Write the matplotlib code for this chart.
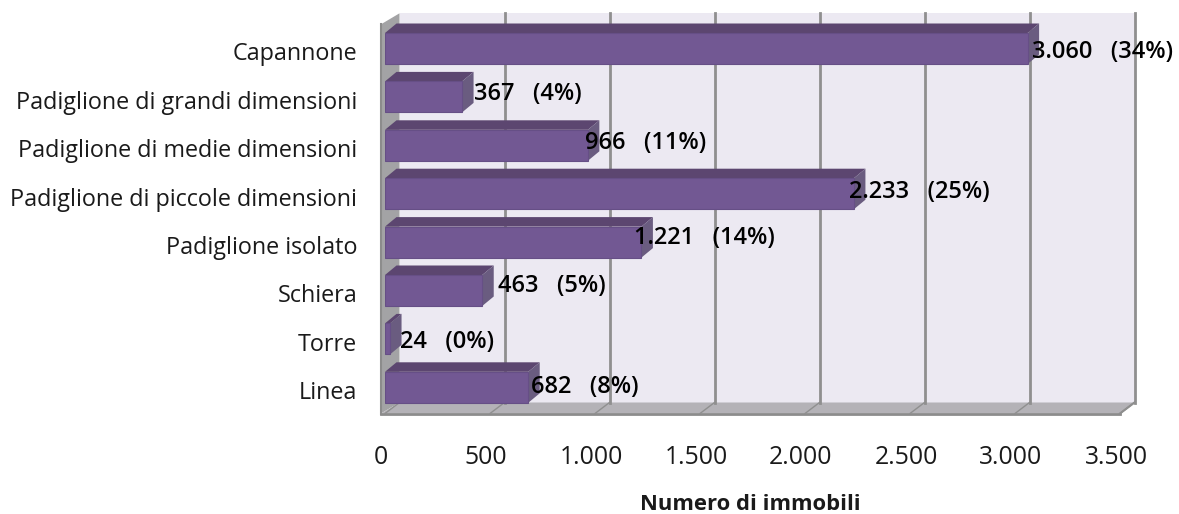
import matplotlib
matplotlib.use('Agg')
import matplotlib.pyplot as plt
from matplotlib.patches import Polygon
from matplotlib.transforms import ScaledTranslation

categories = ['Capannone', 'Padiglione di grandi dimensioni', 'Padiglione di medie dimensioni',
              'Padiglione di piccole dimensioni', 'Padiglione isolato', 'Schiera', 'Torre', 'Linea']
values = [3060, 367, 966, 2233, 1221, 463, 24, 682]
value_labels = ['3.060', '367', '966', '2.233', '1.221', '463', '24', '682']
percents = ['34%', '4%', '11%', '25%', '14%', '5%', '0%', '8%']
x_ticks = [0, 500, 1000, 1500, 2000, 2500, 3000, 3500]
x_tick_labels = ['0', '500', '1.000', '1.500', '2.000', '2.500', '3.000', '3.500']

# label nudges in pixels, the original labels sit unevenly on the bar ends
label_shift = [4, 12, -3, -5, -7, 16, 10, 3]
label_rise = [-3, 3, 2, 2, 4, 4, -3, 0]

W, H = 1179, 514
left, right, top, bottom = 385, 1120, 24.3, 413.5
x_scale = (right - left) / 3500
y_scale = 48.4


def px_x(p):
    return p / x_scale


def px_y(p):
    return p / y_scale


def poly(ax, pts, color, z, edge='none'):
    ax.add_patch(Polygon(pts, closed=True, facecolor=color, edgecolor=edge, lw=1, zorder=z, clip_on=False))


def main():
    plt.rcParams['font.family'] = ['Open Sans', 'DejaVu Sans']
    fig = plt.figure(figsize=(W / 100, H / 100), dpi=100)
    ax = fig.add_axes([left / W, 1 - bottom / H, (right - left) / W, (bottom - top) / H])
    ax.set_xlim(0, 3500)
    ax.set_ylim((bottom - 48.5) / y_scale, -0.5)
    for s in ax.spines.values():
        s.set_visible(False)
    ax.patch.set_visible(False)

    y0, y1 = ax.get_ylim()
    dx = px_x(14.5)
    dy = px_y(11)
    lx = -px_x(4)

    # walls of the 3d box
    poly(ax, [(dx, y1 - dy), (3500 + dx, y1 - dy), (3500 + dx, y0 - dy), (dx, y0 - dy)], '#ece9f2', 1)
    poly(ax, [(lx, y1), (dx, y1 - dy), (dx, y0 - dy), (lx, y0)], '#a3a3a5', 2)
    poly(ax, [(lx, y0), (dx, y0 - dy), (3500 + dx, y0 - dy), (3500, y0)], '#b4b2b7', 2)
    ax.plot([lx, 3500], [y0, y0], color='#8c8c8c', lw=2, zorder=3, clip_on=False)
    ax.plot([lx, lx], [y1, y0], color='#8c8c8c', lw=1.5, zorder=3, clip_on=False)
    ax.plot([3500 + dx, 3500], [y0 - dy, y0], color='#8c8c8c', lw=1.5, zorder=3, clip_on=False)

    for t in x_ticks:
        if t > 0:
            ax.plot([t + dx, t + dx], [y1 - dy, y0 - dy], color='#8f8f8f', lw=2, zorder=3, clip_on=False)
        ax.plot([t, t + dx], [y0, y0 - dy], color='#8f8f8f', lw=1, zorder=3, clip_on=False)

    # bars
    bar_h = 31 / y_scale
    ys = list(range(len(values)))
    ax.barh(ys, values, height=bar_h, color='#725893', edgecolor='#664f86', lw=0.8, zorder=5)
    bdx = px_x(11.5)
    bdy = px_y(9.5)
    for y, v in zip(ys, values):
        t, b = y - bar_h / 2, y + bar_h / 2
        poly(ax, [(0, t), (bdx, t - bdy), (v + bdx, t - bdy), (v, t)], '#5c4670', 4)
        poly(ax, [(v, t), (v + bdx, t - bdy), (v + bdx, b - bdy), (v, b)], '#6a5c80', 4)

    for y, v, lab, pct, shift, rise in zip(ys, values, value_labels, percents, label_shift, label_rise):
        ax.annotate(f'{lab}   ({pct})', (v, y), xytext=(shift * 0.72, rise * 0.72), textcoords='offset points',
                    ha='left', va='center', fontsize=17, fontweight='semibold', color='#000000', zorder=6)

    ax.set_yticks(ys)
    ax.set_yticklabels(categories, fontsize=16.8, color='#1a1a1a')
    ax.tick_params(axis='y', length=0, pad=20)
    ax.set_xticks(x_ticks)
    ax.set_xticklabels(x_tick_labels, fontsize=17.8, color='#1a1a1a')
    ax.tick_params(axis='x', length=0, pad=23)
    shift_left = ScaledTranslation(-4 / 100, 0, fig.dpi_scale_trans)
    for lab in ax.get_xticklabels():
        lab.set_transform(lab.get_transform() + shift_left)
    shift_down = ScaledTranslation(0, -3 / 100, fig.dpi_scale_trans)
    for lab in ax.get_yticklabels():
        lab.set_transform(lab.get_transform() + shift_down)

    fig.text(750 / W, 1 - 504 / H, 'Numero di immobili', ha='center', va='center',
             fontsize=15.8, fontweight='bold', color='#1a1a1a')
    fig.savefig('out.png', dpi=100, facecolor='white')


if __name__ == "__main__":
    main()
